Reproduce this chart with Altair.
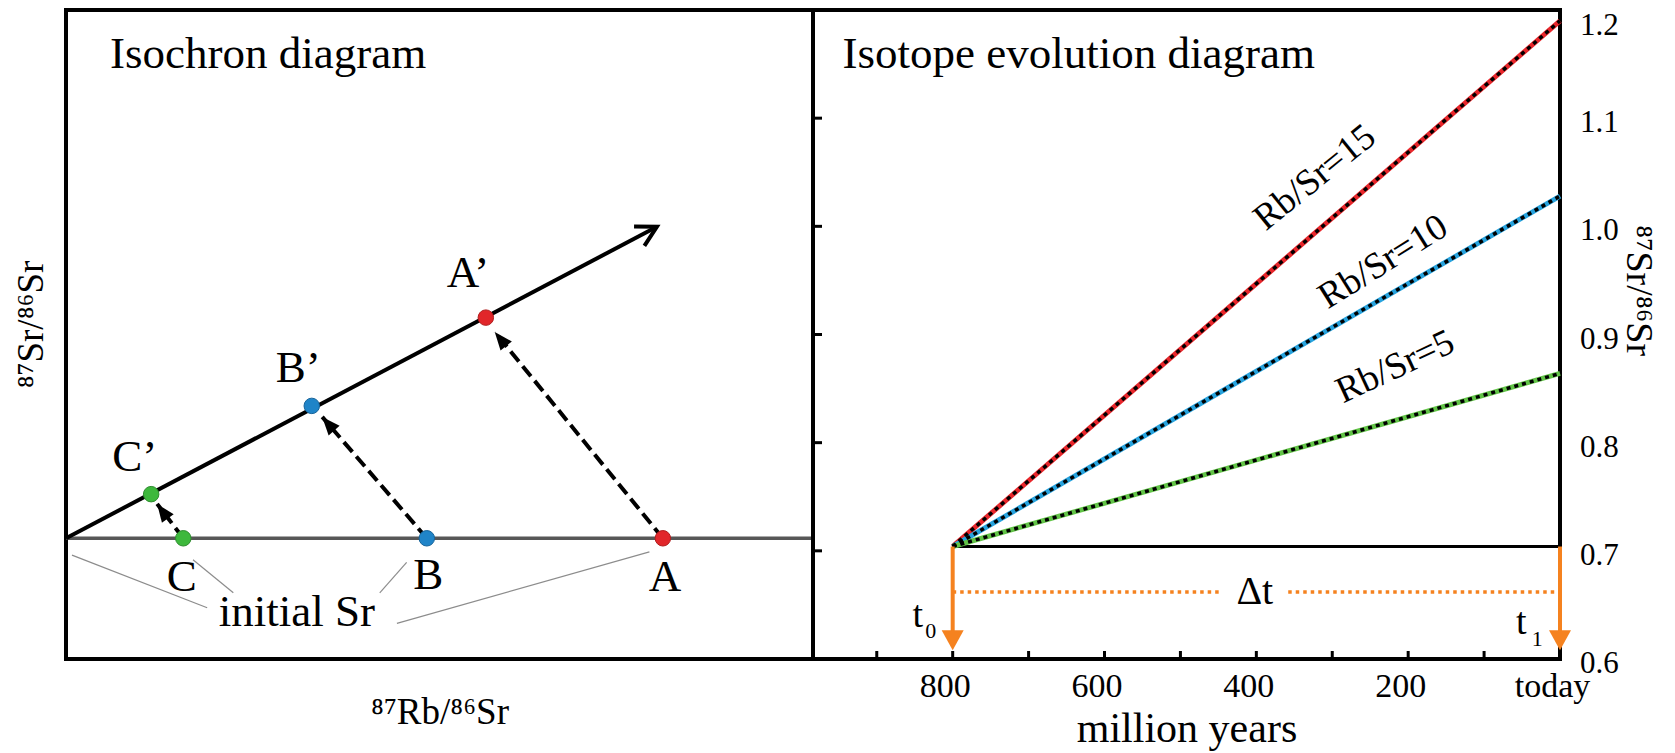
import altair as alt
import pandas as pd

FONT = "Liberation Serif"

# ---------------- Left panel: isochron diagram (arbitrary units) ----------------
iso_domain_x = [0, 100]
iso_domain_y = [0, 100]

initial_sr_level = 18.6
initial_line_x = [0, 100]

sample_names = ["A", "B", "C"]
sample_x = [79.9, 48.3, 15.7]
sample_y = [18.6, 18.6, 18.6]
sample_colors = ["#e1262a", "#1f84c8", "#3db83c"]

aged_names = ["A’", "B’", "C’"]
aged_x = [56.2, 32.9, 11.4]
aged_y = [52.6, 39.0, 25.4]

isochron_x = [0, 79.1]
isochron_y = [18.6, 66.6]
isochron_head_angle = 332

arrow_tip_x = [57.4, 34.3, 12.2]
arrow_tip_y = [50.4, 37.3, 23.9]
arrow_angle = [231, 229, 234]

sample_label_x = [80.2, 48.5, 15.5]
sample_label_y = [12.6, 12.9, 12.6]
aged_label_x = [53.8, 31.1, 9.2]
aged_label_y = [59.5, 44.8, 31.1]

leader_x0 = [0.8, 17.0, 45.6, 78.1]
leader_y0 = [16.0, 15.3, 14.9, 16.5]
leader_x1 = [18.9, 22.4, 42.0, 44.3]
leader_y1 = [7.9, 10.2, 10.2, 5.5]

initial_label = "initial Sr"
initial_label_xy = [30.9, 7.2]
left_title = "Isochron diagram"
left_title_xy = [5.9, 91.1]

# ---------------- Right panel: isotope evolution diagram ----------------
age_domain = [0, 984]
ratio_domain = [0.6, 1.2]
start_age = 800
initial_ratio = 0.704
rbsr_values = [15, 10, 5]
end_ratio = [1.19, 1.028, 0.864]
line_colors = ["#e8262b", "#27a3de", "#62c447"]
rbsr_label_age = [323, 233, 217]
rbsr_label_ratio = [1.045, 0.967, 0.870]
rbsr_label_angle = [321, 328, 335]

age_label_values = [0, 200, 400, 600, 800]
age_tick_values = [100, 200, 300, 400, 500, 600, 700, 800, 900]
ratio_label_values = [0.6, 0.7, 0.8, 0.9, 1.0, 1.1]
ratio_top_label = [1.2]
ratio_tick_values = [0.7, 0.8, 0.9, 1.0, 1.1]

t_arrow_ages = [800, 0]
t_arrow_tip = 0.608
t_arrow_shaft_end = 0.625
dt_level = 0.662
dt_segments_from = [800, 358]
dt_segments_to = [445, 0]
dt_label_xy = [402, 0.662]
t_letter_age = [846, 51]
t_letter_ratio = [0.630, 0.623]
t_sub_text = ["0", "1"]
t_sub_age = [829, 30]
t_sub_ratio = [0.619, 0.612]

right_title = "Isotope evolution diagram"
right_title_xy = [945, 1.146]

ORANGE = "#f5821f"
W, H = 747, 649

# ================= Left panel =================
def LX():
    return alt.X("x:Q", scale=alt.Scale(domain=iso_domain_x, nice=False, zero=False),
                 axis=alt.Axis(title="⁸⁷Rb/⁸⁶Sr", labels=False, ticks=False, domain=False,
                               grid=False, titleFontSize=37, titleY=64,
                               titleBaseline="alphabetic"))

def LY():
    return alt.Y("y:Q", scale=alt.Scale(domain=iso_domain_y, nice=False, zero=False),
                 axis=alt.Axis(title="⁸⁷Sr/⁸⁶Sr", labels=False, ticks=False, domain=False,
                               grid=False, titleFontSize=37, titleAngle=270, titleX=-35,
                               titleY=314, titleAlign="center", titleBaseline="middle"))

init_df = pd.DataFrame({"x": [initial_line_x[0]], "x2": [initial_line_x[1]],
                        "y": [initial_sr_level]})
initial_line = alt.Chart(init_df).mark_rule(color="#575757", strokeWidth=3.5).encode(
    x=LX(), x2="x2:Q", y=LY())

leader_df = pd.DataFrame({"x": leader_x0, "y": leader_y0, "x2": leader_x1, "y2": leader_y1})
leaders = alt.Chart(leader_df).mark_rule(color="#8c8c8c", strokeWidth=1.2).encode(
    x=LX(), y=LY(), x2="x2:Q", y2="y2:Q")

iso_df = pd.DataFrame({"x": isochron_x, "y": isochron_y})
isochron = alt.Chart(iso_df).mark_line(color="black", strokeWidth=4).encode(x=LX(), y=LY())

iso_head_df = pd.DataFrame({"x": [isochron_x[1]], "y": [isochron_y[1]]})
iso_head = alt.Chart(iso_head_df).mark_point(
    shape="M-2,-1.1L0,0L-2,1.1", filled=False, size=400, strokeWidth=4,
    color="black", opacity=1, angle=isochron_head_angle, strokeJoin="miter").encode(x=LX(), y=LY())

dash_df = pd.DataFrame({"x": sample_x, "y": sample_y, "x2": arrow_tip_x, "y2": arrow_tip_y})
dashed = alt.Chart(dash_df).mark_rule(color="black", strokeWidth=4, strokeDash=[13, 6]).encode(
    x=LX(), y=LY(), x2="x2:Q", y2="y2:Q")

head_df = pd.DataFrame({"x": arrow_tip_x, "y": arrow_tip_y, "angle": arrow_angle})
heads = alt.Chart(head_df).mark_point(
    shape="M0,0L-2,-0.8L-2,0.8Z", filled=True, size=330, color="black", opacity=1).encode(
    x=LX(), y=LY(), angle=alt.Angle("angle:Q", scale=None))

pts_df = pd.DataFrame({"x": sample_x + aged_x, "y": sample_y + aged_y,
                       "name": sample_names + aged_names,
                       "grp": sample_names + sample_names})
points = alt.Chart(pts_df).mark_point(filled=True, size=240, shape="circle", opacity=1,
                                      strokeWidth=1).encode(
    x=LX(), y=LY(),
    fill=alt.Fill("grp:N", scale=alt.Scale(domain=sample_names, range=sample_colors), legend=None),
    stroke=alt.Stroke("grp:N", scale=alt.Scale(domain=sample_names,
                                               range=["#b01d1d", "#17649a", "#2e8c2e"]),
                      legend=None))

lab_df = pd.DataFrame({"x": sample_label_x + aged_label_x,
                       "y": sample_label_y + aged_label_y,
                       "text": sample_names + aged_names})
labels = alt.Chart(lab_df).mark_text(font=FONT, fontSize=45, align="center",
                                     baseline="middle", color="black").encode(
    x=LX(), y=LY(), text="text:N")

init_lab_df = pd.DataFrame({"x": [initial_label_xy[0]], "y": [initial_label_xy[1]],
                            "text": [initial_label]})
init_label = alt.Chart(init_lab_df).mark_text(font=FONT, fontSize=45, align="center",
                                              baseline="middle", color="black").encode(
    x=LX(), y=LY(), text="text:N")

lt_df = pd.DataFrame({"x": [left_title_xy[0]], "y": [left_title_xy[1]], "text": [left_title]})
left_title_mark = alt.Chart(lt_df).mark_text(font=FONT, fontSize=45, align="left",
                                             baseline="alphabetic", color="black").encode(
    x=LX(), y=LY(), text="text:N")

left = alt.layer(initial_line, leaders, isochron, iso_head, dashed, heads, points,
                 labels, init_label, left_title_mark).properties(width=W, height=H)

# ================= Right panel =================
def RX():
    return alt.X("t:Q", scale=alt.Scale(domain=age_domain, reverse=True, nice=False, zero=False),
                 axis=alt.Axis(title="million years", values=age_label_values, ticks=False,
                               domain=False, grid=False, labelFontSize=34, labelPadding=10,
                               labelBaseline="top", labelFlush=False, labelOverlap=False,
                               labelOffset=-8,
                               labelExpr="datum.value == 0 ? 'today' : datum.label",
                               titleFontSize=42, titleY=82, titleBaseline="alphabetic"))

def RY():
    return alt.Y("v:Q", scale=alt.Scale(domain=ratio_domain, nice=False, zero=False),
                 axis=alt.Axis(orient="right", title="⁸⁷Sr/⁸⁶Sr", labels=False,
                               ticks=False, domain=False, grid=False,
                               titleFontSize=38, titleAngle=90, titleX=77, titleY=280,
                               titleAlign="center", titleBaseline="middle"))

base_df = pd.DataFrame({"t": [start_age], "t2": [0], "v": [initial_ratio]})
base_line = alt.Chart(base_df).mark_rule(color="black", strokeWidth=3).encode(
    x=RX(), x2="t2:Q", y=RY())

evo_rows = []
for r, e in zip(rbsr_values, end_ratio):
    evo_rows.append({"rbsr": str(r), "t": start_age, "v": initial_ratio})
    evo_rows.append({"rbsr": str(r), "t": 0, "v": e})
evo_df = pd.DataFrame(evo_rows)
rb_domain = [str(r) for r in rbsr_values]
evo_color = alt.Chart(evo_df).mark_line(strokeWidth=5).encode(
    x=RX(), y=RY(), detail="rbsr:N",
    color=alt.Color("rbsr:N", scale=alt.Scale(domain=rb_domain, range=line_colors), legend=None))
evo_black = alt.Chart(evo_df).mark_line(strokeWidth=3.5, color="black",
                                        strokeDash=[4, 4]).encode(
    x=RX(), y=RY(), detail="rbsr:N")

rb_lab_df = pd.DataFrame({"t": rbsr_label_age, "v": rbsr_label_ratio,
                          "angle": rbsr_label_angle,
                          "text": ["Rb/Sr=" + str(r) for r in rbsr_values]})
rb_labels = alt.Chart(rb_lab_df).mark_text(font=FONT, fontSize=37, align="center",
                                           baseline="middle", color="black").encode(
    x=RX(), y=RY(), text="text:N", angle=alt.Angle("angle:Q", scale=None))

tick_x_df = pd.DataFrame({"t": age_tick_values})
ticks_x = alt.Chart(tick_x_df).mark_rule(color="black", strokeWidth=3).encode(
    x=RX(), y=alt.value(H), y2=alt.value(H - 8))
tick_y_df = pd.DataFrame({"v": ratio_tick_values})
ticks_y = alt.Chart(tick_y_df).mark_rule(color="black", strokeWidth=3).encode(
    y=RY(), x=alt.value(0), x2=alt.value(9))

# right-hand value labels (drawn through the y scale)
ylab_df = pd.DataFrame({"v": ratio_label_values})
ylabels = alt.Chart(ylab_df).mark_text(font=FONT, fontSize=31, align="left",
                                       baseline="middle", color="black", dy=5).encode(
    y=RY(), x=alt.value(W + 20), text=alt.Text("v:Q", format=".1f"))
ytop_df = pd.DataFrame({"v": ratio_top_label})
ylabel_top = alt.Chart(ytop_df).mark_text(font=FONT, fontSize=31, align="left",
                                          baseline="middle", color="black", dy=16).encode(
    y=RY(), x=alt.value(W + 20), text=alt.Text("v:Q", format=".1f"))

shaft_df = pd.DataFrame({"t": t_arrow_ages, "v": [initial_ratio] * 2,
                         "v2": [t_arrow_shaft_end] * 2})
shafts = alt.Chart(shaft_df).mark_rule(color=ORANGE, strokeWidth=4).encode(
    x=RX(), y=RY(), y2="v2:Q")
thead_df = pd.DataFrame({"t": t_arrow_ages, "v": [t_arrow_tip] * 2})
theads = alt.Chart(thead_df).mark_point(shape="M0,0L-2,-1.1L-2,1.1Z", filled=True, size=400,
                                        color=ORANGE, opacity=1, angle=90).encode(
    x=RX(), y=RY())

dt_df = pd.DataFrame({"t": dt_segments_from, "t2": dt_segments_to, "v": [dt_level] * 2})
dt_lines = alt.Chart(dt_df).mark_rule(color=ORANGE, strokeWidth=3.5, strokeDash=[3.5, 4]).encode(
    x=RX(), x2="t2:Q", y=RY())
dt_lab_df = pd.DataFrame({"t": [dt_label_xy[0]], "v": [dt_label_xy[1]], "text": ["Δt"]})
dt_label = alt.Chart(dt_lab_df).mark_text(font=FONT, fontSize=40, align="center",
                                          baseline="middle", color="black").encode(
    x=RX(), y=RY(), text="text:N")

t_df = pd.DataFrame({"t": t_letter_age, "v": t_letter_ratio, "text": ["t", "t"]})
t_letters = alt.Chart(t_df).mark_text(font=FONT, fontSize=38, align="center",
                                      baseline="alphabetic", color="black").encode(
    x=RX(), y=RY(), text="text:N")
ts_df = pd.DataFrame({"t": t_sub_age, "v": t_sub_ratio, "text": t_sub_text})
t_subs = alt.Chart(ts_df).mark_text(font=FONT, fontSize=22, align="center",
                                    baseline="alphabetic", color="black").encode(
    x=RX(), y=RY(), text="text:N")

rt_df = pd.DataFrame({"t": [right_title_xy[0]], "v": [right_title_xy[1]], "text": [right_title]})
right_title_mark = alt.Chart(rt_df).mark_text(font=FONT, fontSize=45, align="left",
                                              baseline="alphabetic", color="black").encode(
    x=RX(), y=RY(), text="text:N")

right = alt.layer(base_line, evo_color, evo_black, rb_labels, ticks_x, ticks_y, ylabels,
                  ylabel_top, shafts, theads, dt_lines, dt_label, t_letters, t_subs,
                  right_title_mark).properties(width=W, height=H)

chart = alt.hconcat(left, right, spacing=0, bounds="flush").properties(
    autosize=alt.AutoSizeParams(type="none"),
    padding={"left": 58, "top": 2, "right": 1600, "bottom": 743},
    background="white",
).configure_view(stroke="black", strokeWidth=4).configure_axis(
    labelFont=FONT, titleFont=FONT, labelColor="black", titleColor="black",
    titleFontWeight="normal", grid=False
)

chart.save("out.html", embed_options={"renderer": "svg", "actions": False})
